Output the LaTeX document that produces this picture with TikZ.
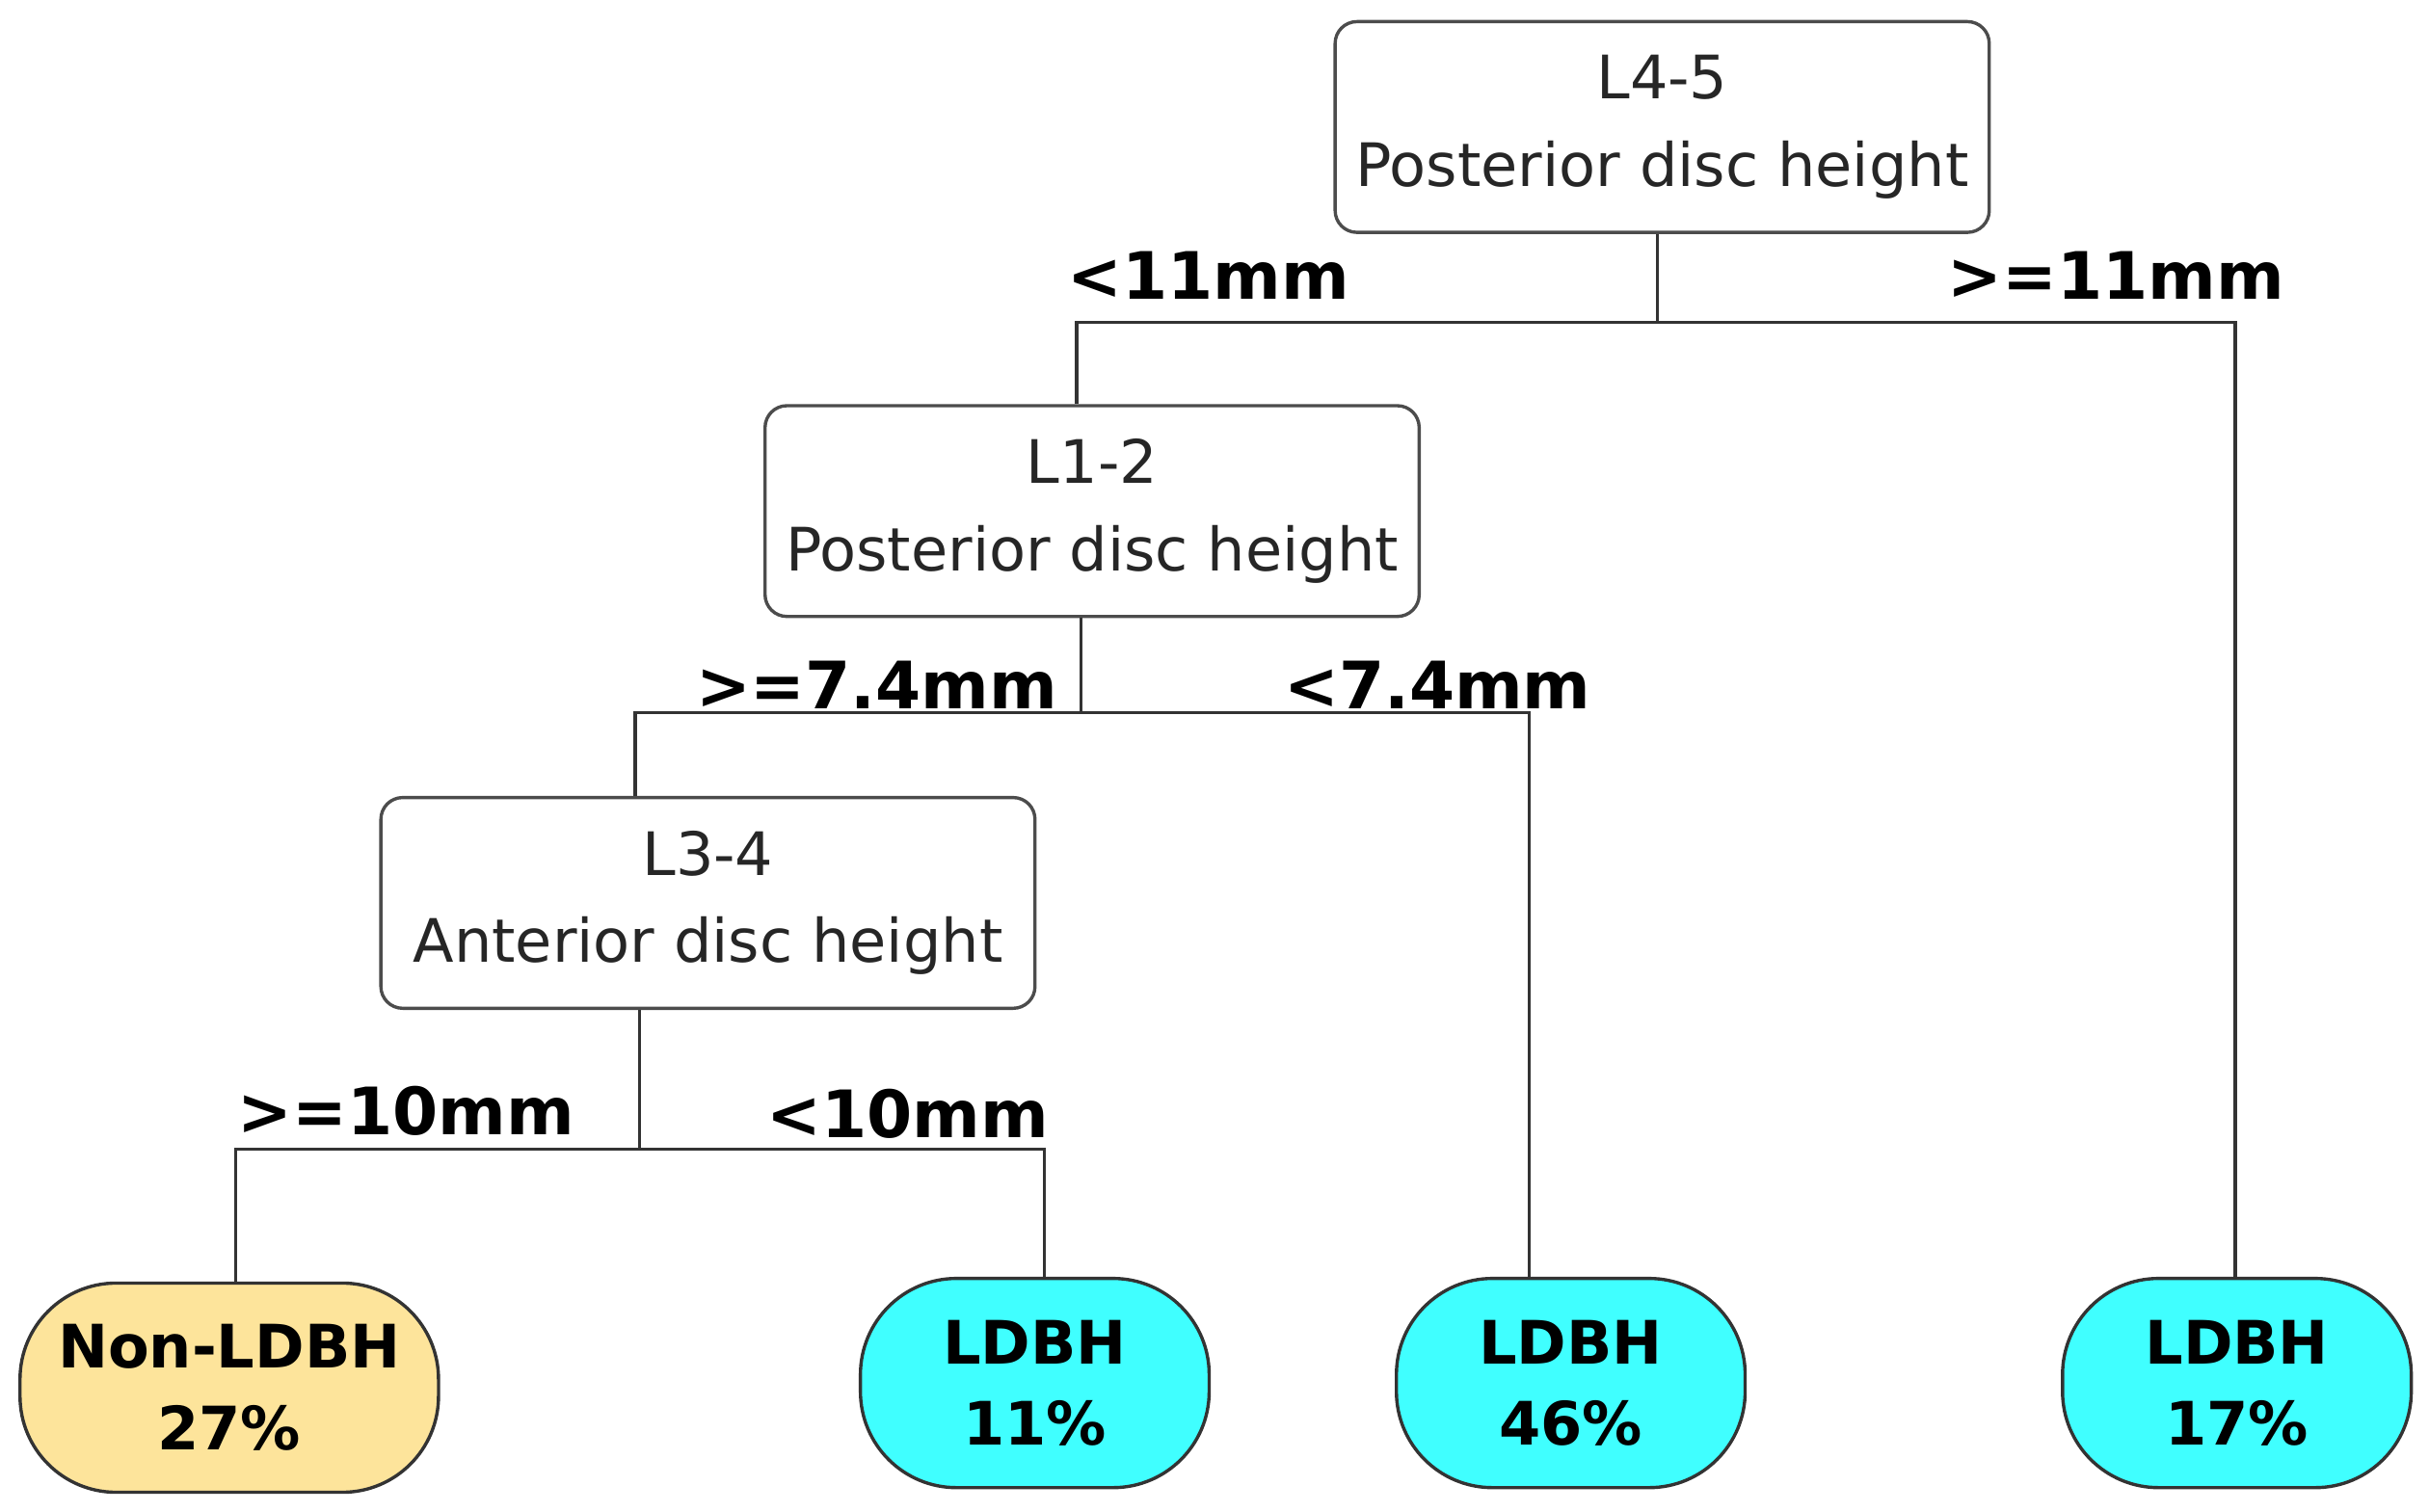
\documentclass[tikz,border=0pt]{standalone}
\usepackage{fontspec}
\setmainfont{DejaVu Sans}
\begin{document}
\begin{tikzpicture}[x=0.01cm,y=-0.01cm,
  box/.style={draw=black!70,rounded corners=4pt,minimum width=4.22cm,minimum height=1.36cm,align=center,font=\fontsize{11}{16}\selectfont,line width=0.6pt,text=black!85},
  leaf/.style={draw=black!80,rounded corners=0.62cm,minimum height=1.35cm,align=center,font=\bfseries\fontsize{11}{15}\selectfont,line width=0.6pt},
  lab/.style={font=\bfseries\fontsize{12}{14}\selectfont},
  ln/.style={draw=black!80,line width=0.6pt}]
\useasboundingbox (0,0) rectangle (1568,976);
\node[box] (b1) at (1073,82) {L4-5\\Posterior disc height};
\node[box] (b2) at (705,330) {L1-2\\Posterior disc height};
\node[box] (b3) at (457,583) {L3-4\\Anterior disc height};
\node[leaf,fill={rgb,255:red,253;green,228;blue,155},minimum width=2.70cm] (l1) at (148,896) {Non-LDBH\\27\%};
\node[leaf,fill={rgb,255:red,64;green,255;blue,255},minimum width=2.25cm] (l2) at (668,893) {LDBH\\11\%};
\node[leaf,fill={rgb,255:red,64;green,255;blue,255},minimum width=2.25cm] (l3) at (1014,893) {LDBH\\46\%};
\node[leaf,fill={rgb,255:red,64;green,255;blue,255},minimum width=2.25cm] (l4) at (1444,893) {LDBH\\17\%};
\coordinate (j1) at (1070,208);
\coordinate (j2) at (698,460);
\coordinate (j3) at (413,742);
\draw[ln] (b1.south -| j1) -- (j1);
\draw[ln] (b2.north -| 695,0) -- (695,208) -- (1443,208) -- (l4.north -| 1443,0);
\draw[ln] (b2.south -| j2) -- (j2);
\draw[ln] (b3.north -| 410,0) -- (410,460) -- (987,460) -- (l3.north -| 987,0);
\draw[ln] (b3.south -| j3) -- (j3);
\draw[ln] (l1.north -| 152,0) -- (152,742) -- (674,742) -- (l2.north -| 674,0);
\node[lab] (t1) at (780,178) {<11mm};
\node[lab] (t2) at (1366,178) {>=11mm};
\node[lab] (t3) at (566,442) {>=7.4mm};
\node[lab] (t4) at (928,442) {<7.4mm};
\node[lab] (t5) at (262,717) {>=10mm};
\node[lab] (t6) at (586,719) {<10mm};
\end{tikzpicture}
\end{document}
